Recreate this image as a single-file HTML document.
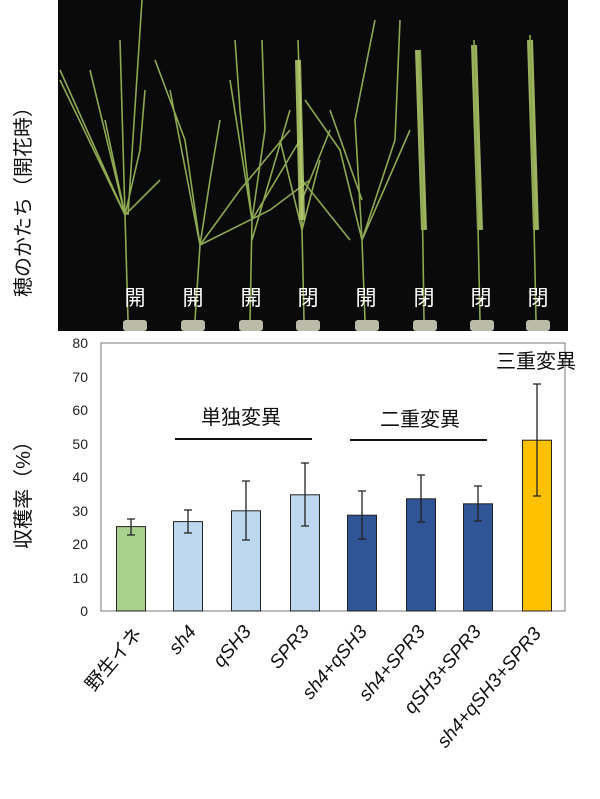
<!DOCTYPE html>
<html><head><meta charset="utf-8"><style>
html,body{margin:0;padding:0;background:#fff;width:600px;height:799px;overflow:hidden}
svg{display:block}
text{font-family:"Liberation Sans","Noto Sans CJK JP",sans-serif}
</style></head><body>
<svg width="600" height="799" viewBox="0 0 600 799" xmlns="http://www.w3.org/2000/svg">
<rect x="58" y="0" width="510" height="331" fill="#0a0a0a"/>
<g stroke="#9cba5a" stroke-width="1.6" fill="none" opacity="0.9">
<path d="M128 320 L125 215 L105 120 M125 215 L90 70 M125 215 L60 80 M125 215 L140 150 L145 90 M125 215 L120 40 M125 215 L60 70 M125 215 L160 180 M128 215 L142 0"/>
<path d="M195 320 L200 245 L185 140 L155 60 M200 245 L210 180 L220 120 M200 245 L240 190 L290 130 M200 245 L270 210 L310 180 M200 245 L170 90"/>
<path d="M250 320 L252 220 L240 110 L235 40 M252 220 L265 130 L262 40 M252 220 L300 140 M252 220 L230 80 M252 240 L290 110"/>
<path d="M304 320 L302 230 L300 100 L298 40 M302 230 L320 160 M302 230 L280 140 M302 200 L330 130 M302 180 L350 240"/>
<path d="M365 320 L362 240 L355 120 L375 20 M362 240 L395 140 L400 20 M362 240 L340 150 L305 100 M362 240 L410 130 M362 200 L330 110"/>
</g>
<g stroke="#b7cf6f" stroke-width="6" fill="none" opacity="0.85">
<path d="M302 220 L298 60"/>
<path d="M424 230 L418 50"/>
<path d="M480 230 L474 45"/>
<path d="M536 230 L530 40"/>
</g>
<g stroke="#8aa84c" stroke-width="1.6" fill="none">
<path d="M424 320 L420 50 M480 320 L474 40 M536 320 L530 35"/>
</g>
<g fill="#bbbbaa">
<rect x="123" y="320" width="24" height="11" rx="3"/><rect x="181" y="320" width="24" height="11" rx="3"/>
<rect x="239" y="320" width="24" height="11" rx="3"/><rect x="296" y="320" width="24" height="11" rx="3"/>
<rect x="355" y="320" width="24" height="11" rx="3"/><rect x="413" y="320" width="24" height="11" rx="3"/>
<rect x="470" y="320" width="24" height="11" rx="3"/><rect x="526" y="320" width="24" height="11" rx="3"/>
</g>
<g fill="#fff" font-size="21" text-anchor="middle">
<text x="135" y="305">開</text><text x="193" y="305">開</text><text x="251" y="305">開</text><text x="308" y="305">閉</text>
<text x="366" y="305">開</text><text x="424" y="305">閉</text><text x="481" y="305">閉</text><text x="538" y="305">閉</text>
</g>
<text transform="translate(30,197) rotate(-90)" font-size="20" text-anchor="middle" fill="#111">穂のかたち（開花時）</text>

<rect x="101" y="343" width="464" height="268" fill="none" stroke="#777" stroke-width="1"/>
<g font-size="14" fill="#222" text-anchor="end">
<text x="88" y="616">0</text><text x="88" y="583">10</text><text x="88" y="549">20</text><text x="88" y="516">30</text>
<text x="88" y="482">40</text><text x="88" y="449">50</text><text x="88" y="415">60</text><text x="88" y="382">70</text><text x="88" y="348">80</text>
</g>
<text transform="translate(30,490) rotate(-90)" font-size="20" text-anchor="middle" fill="#111">収穫率（%）</text>
<g stroke="#222" stroke-width="1">
<rect x="116.5" y="526.6" width="29" height="84.4" fill="#a9d18e"/>
<rect x="173.5" y="521.6" width="29" height="89.4" fill="#bdd7ee"/>
<rect x="231.5" y="510.8" width="29" height="100.2" fill="#bdd7ee"/>
<rect x="290.5" y="494.8" width="29" height="116.2" fill="#bdd7ee"/>
<rect x="347.5" y="515.2" width="29" height="95.8" fill="#2f5597"/>
<rect x="406.5" y="498.8" width="29" height="112.2" fill="#2f5597"/>
<rect x="463.5" y="503.8" width="29" height="107.2" fill="#2f5597"/>
<rect x="522.5" y="440.2" width="29" height="170.8" fill="#ffc000"/>
</g>
<g stroke="#222" stroke-width="1.3">
<path d="M131 519V535M127 519h8M127 535h8"/>
<path d="M188 510V533M184 510h8M184 533h8"/>
<path d="M246 481V540M242 481h8M242 540h8"/>
<path d="M305 463V526M301 463h8M301 526h8"/>
<path d="M362 491V539M358 491h8M358 539h8"/>
<path d="M421 475V522M417 475h8M417 522h8"/>
<path d="M478 486V521M474 486h8M474 521h8"/>
<path d="M537 384V496M533 384h8M533 496h8"/>
</g>
<g stroke="#111" stroke-width="2"><path d="M175 439H312M350 440H487"/></g>
<g font-size="20" fill="#111" text-anchor="middle">
<text x="241" y="424">単独変異</text><text x="420" y="426">二重変異</text><text x="536" y="368">三重変異</text>
</g>
<g font-size="19" fill="#111" text-anchor="end">
<text transform="translate(143,634) rotate(-50)">野生イネ</text>
<g font-style="italic">
<text transform="translate(197,632) rotate(-50)">sh4</text>
<text transform="translate(252,632) rotate(-50)">qSH3</text>
<text transform="translate(310,632) rotate(-50)">SPR3</text>
<text transform="translate(368,632) rotate(-50)">sh4+qSH3</text>
<text transform="translate(426,632) rotate(-50)">sh4+SPR3</text>
<text transform="translate(482,632) rotate(-50)">qSH3+SPR3</text>
<text transform="translate(542,634) rotate(-50)">sh4+qSH3+SPR3</text>
</g></g>
</svg>
</body></html>
